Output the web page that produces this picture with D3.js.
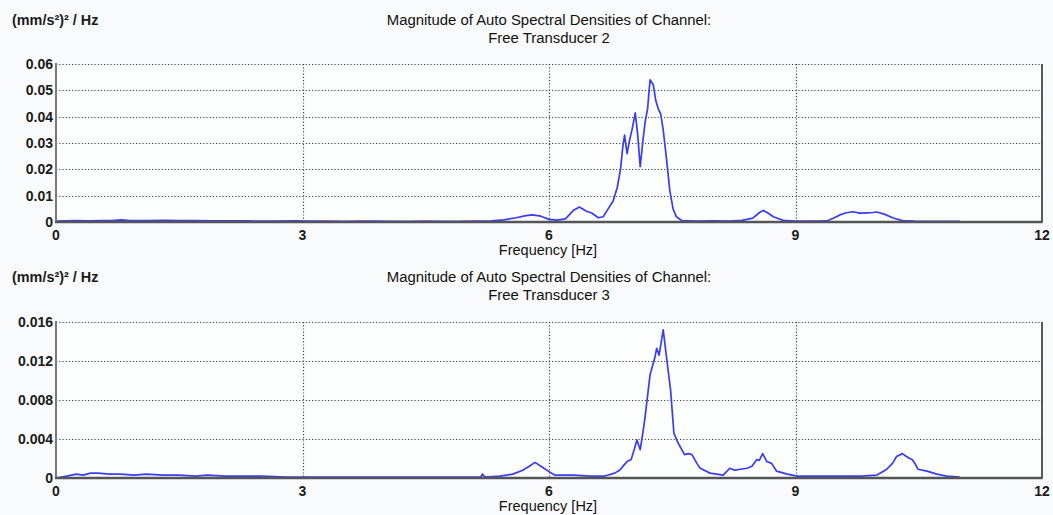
<!DOCTYPE html>
<html>
<head>
<meta charset="utf-8">
<script src="https://cdn.jsdelivr.net/npm/d3@7"></script>
<style>
  body { margin: 0; background: #f9fafb; }
  svg { display: block; font-family: "Liberation Sans", Arial, sans-serif; }
</style>
</head>
<body>
<div id="chart"></div>
<script>
var svgWidth = 1053;
var svgHeight = 515;

// Free Transducer 2 -- frequency (Hz) and ASD values
var freq2 = [0.00, 0.10, 0.25, 0.40, 0.55, 0.70, 0.80, 0.90, 1.10, 1.30, 1.50, 1.70, 1.90, 2.10, 2.30, 2.50, 2.70, 2.90,
  3.10, 3.30, 3.50, 3.70, 3.90, 4.10, 4.30, 4.50, 4.70, 4.90, 5.10, 5.30, 5.45, 5.60, 5.72, 5.80, 5.90, 6.00, 6.10,
  6.20, 6.30, 6.37, 6.45, 6.52, 6.60, 6.66, 6.72, 6.78, 6.83, 6.87, 6.90, 6.92, 6.95, 6.98, 7.01, 7.05, 7.08, 7.11,
  7.14, 7.17, 7.20, 7.23, 7.27, 7.30, 7.33, 7.36, 7.39, 7.43, 7.47, 7.51, 7.55, 7.62, 7.80, 8.00, 8.20, 8.35, 8.48,
  8.57, 8.61, 8.66, 8.73, 8.85, 9.00, 9.20, 9.38, 9.46, 9.54, 9.62, 9.70, 9.78, 9.87, 9.94, 9.99, 10.08, 10.19,
  10.30, 10.45, 10.70, 11.00];
var asd2 = [0.0003, 0.0004, 0.0005, 0.0004, 0.0005, 0.0006, 0.0008, 0.0005, 0.0005, 0.0006, 0.0005, 0.0005, 0.0004,
  0.0004, 0.0004, 0.0003, 0.0003, 0.0004, 0.0003, 0.0003, 0.0002, 0.0003, 0.0003, 0.0002, 0.0002, 0.0003, 0.0002,
  0.0002, 0.0003, 0.0004, 0.0008, 0.0016, 0.0024, 0.0027, 0.0022, 0.0010, 0.0007, 0.0012, 0.0045, 0.0057, 0.0042,
  0.0034, 0.0016, 0.0020, 0.0050, 0.0080, 0.0130, 0.0200, 0.0290, 0.0330, 0.0260, 0.0310, 0.0350, 0.0414, 0.0330,
  0.0210, 0.0300, 0.0380, 0.0430, 0.0540, 0.0520, 0.0460, 0.0430, 0.0410, 0.0350, 0.0240, 0.0120, 0.0050, 0.0020,
  0.0005, 0.0003, 0.0004, 0.0003, 0.0006, 0.0015, 0.0038, 0.0044, 0.0035, 0.0020, 0.0006, 0.0003, 0.0003, 0.0004,
  0.0014, 0.0027, 0.0035, 0.0039, 0.0034, 0.0035, 0.0036, 0.0038, 0.0030, 0.0015, 0.0005, 0.0003, 0.0002, 0.0002];

// Free Transducer 3
var freq3 = [0.00, 0.13, 0.25, 0.33, 0.42, 0.51, 0.65, 0.78, 0.95, 1.10, 1.30, 1.50, 1.70, 1.84, 2.05, 2.24, 2.50,
  2.80, 3.00, 3.40, 3.80, 4.20, 4.60, 5.00, 5.17, 5.19, 5.22, 5.40, 5.56, 5.68, 5.76, 5.83, 5.92, 6.01, 6.07, 6.30,
  6.50, 6.68, 6.80, 6.86, 6.92, 6.95, 7.00, 7.04, 7.07, 7.11, 7.14, 7.17, 7.23, 7.29, 7.31, 7.34, 7.39, 7.43, 7.48,
  7.52, 7.57, 7.61, 7.65, 7.70, 7.74, 7.80, 7.84, 7.96, 8.12, 8.20, 8.26, 8.33, 8.41, 8.47, 8.53, 8.56, 8.60, 8.65,
  8.71, 8.77, 8.90, 9.02, 9.20, 9.40, 9.60, 9.80, 9.99, 10.05, 10.11, 10.18, 10.23, 10.30, 10.35, 10.39, 10.42,
  10.46, 10.49, 10.60, 10.72, 10.84, 11.00];
var asd3 = [0.0000, 0.0002, 0.0004, 0.0003, 0.0005, 0.0005, 0.0004, 0.0004, 0.0003, 0.0004, 0.0003, 0.0003, 0.0002,
  0.0003, 0.0002, 0.0002, 0.0002, 0.0001, 0.0001, 0.0001, 0.0001, 0.0001, 0.0001, 0.0001, 0.0001, 0.0004, 0.0001,
  0.0002, 0.0004, 0.0008, 0.0012, 0.0016, 0.0011, 0.0006, 0.0003, 0.0003, 0.0002, 0.0002, 0.0005, 0.0008, 0.0014,
  0.0017, 0.0019, 0.0030, 0.0039, 0.0029, 0.0045, 0.0063, 0.0106, 0.0124, 0.0133, 0.0126, 0.0152, 0.0124, 0.0090,
  0.0046, 0.0036, 0.0030, 0.0024, 0.0025, 0.0024, 0.0015, 0.0010, 0.0005, 0.0003, 0.0010, 0.0008, 0.0009, 0.0010,
  0.0012, 0.0019, 0.0018, 0.0025, 0.0017, 0.0015, 0.0007, 0.0004, 0.0002, 0.0002, 0.0002, 0.0002, 0.0002, 0.0003,
  0.0006, 0.0009, 0.0015, 0.0022, 0.0025, 0.0022, 0.0020, 0.0019, 0.0014, 0.0009, 0.0007, 0.0004, 0.0002, 0.0001];

var xTicks = [0, 3, 6, 9, 12];
var yTicks2 = [0, 0.01, 0.02, 0.03, 0.04, 0.05, 0.06];
var yTicks3 = [0, 0.004, 0.008, 0.012, 0.016];
var yLabels2 = ["0", "0.01", "0.02", "0.03", "0.04", "0.05", "0.06"];
var yLabels3 = ["0", "0.004", "0.008", "0.012", "0.016"];

var unitText = "(mm/s\u00b2)\u00b2 / Hz";
var titleLine1 = "Magnitude of Auto Spectral Densities of Channel:";
var xTitle = "Frequency [Hz]";

var svg = d3.select("#chart")
  .append("svg")
  .attr("width", svgWidth)
  .attr("height", svgHeight);

var plotLeft = 56;
var plotRight = 1042;

var panels = [
  { name: "Free Transducer 2", freq: freq2, asd: asd2, ticks: yTicks2, labels: yLabels2, top: 64, bottom: 222, off: 0 },
  { name: "Free Transducer 3", freq: freq3, asd: asd3, ticks: yTicks3, labels: yLabels3, top: 322, bottom: 478, off: 257 }
];

panels.forEach(function(p) {
  var x = d3.scaleLinear().domain([0, 12]).range([plotLeft, plotRight]);
  var y = d3.scaleLinear().domain([0, d3.max(p.ticks)]).range([p.bottom, p.top]);

  // plot area
  svg.append("rect")
    .attr("x", plotLeft).attr("y", p.top)
    .attr("width", plotRight - plotLeft).attr("height", p.bottom - p.top)
    .attr("fill", "#fdfefe");

  // grid
  var grid = svg.append("g");
  grid.selectAll("line.h")
    .data(p.ticks.slice(1))
    .enter().append("line")
    .attr("x1", plotLeft).attr("x2", plotRight)
    .attr("y1", d => Math.round(y(d)) + 0.5).attr("y2", d => Math.round(y(d)) + 0.5)
    .attr("stroke", "#444").attr("stroke-width", 1.2)
    .attr("stroke-dasharray", "1.2,2");
  grid.selectAll("line.v")
    .data(xTicks.slice(1, -1))
    .enter().append("line")
    .attr("x1", d => Math.round(x(d)) + 0.5).attr("x2", d => Math.round(x(d)) + 0.5)
    .attr("y1", p.top).attr("y2", p.bottom)
    .attr("stroke", "#444").attr("stroke-width", 1.2)
    .attr("stroke-dasharray", "1.2,2");

  // series
  var pts = p.freq.map(function(f, i) { return [f, p.asd[i]]; });
  var line = d3.line().x(d => x(d[0])).y(d => y(d[1]));
  svg.append("path")
    .datum(pts)
    .attr("d", line)
    .attr("fill", "none")
    .attr("stroke", "#3a3cf4")
    .attr("stroke-width", 1.7)
    .attr("stroke-linejoin", "round");

  // frame
  svg.append("line")
    .attr("x1", plotRight).attr("x2", plotRight)
    .attr("y1", p.top).attr("y2", p.bottom)
    .attr("stroke", "#222").attr("stroke-width", 1.5);
  svg.append("line")
    .attr("x1", plotLeft).attr("x2", plotLeft)
    .attr("y1", p.top - 1).attr("y2", p.bottom)
    .attr("stroke", "#7a7a7a").attr("stroke-width", 2);
  svg.append("line")
    .attr("x1", plotLeft - 1).attr("x2", plotRight + 0.75)
    .attr("y1", p.bottom).attr("y2", p.bottom)
    .attr("stroke", "#555").attr("stroke-width", 2.5);

  // tick labels
  svg.append("g").selectAll("text")
    .data(p.ticks)
    .enter().append("text")
    .attr("x", 53)
    .attr("y", d => y(d) + 5)
    .attr("text-anchor", "end")
    .attr("font-size", "14px").attr("font-weight", "bold").attr("fill", "#1a1a1a")
    .text((d, i) => p.labels[i]);

  svg.append("g").selectAll("text")
    .data(xTicks)
    .enter().append("text")
    .attr("x", d => x(d))
    .attr("y", p.bottom + 18)
    .attr("text-anchor", "middle")
    .attr("font-size", "14px").attr("font-weight", "bold").attr("fill", "#1a1a1a")
    .text(d => d);

  // titles
  svg.append("text")
    .attr("x", 12).attr("y", 25 + p.off)
    .attr("font-size", "14.4px").attr("font-weight", "bold").attr("fill", "#1a1a1a")
    .text(unitText);
  svg.append("text")
    .attr("x", 549).attr("y", 25 + p.off)
    .attr("text-anchor", "middle")
    .attr("font-size", "14.9px").attr("fill", "#111")
    .text(titleLine1);
  svg.append("text")
    .attr("x", 549).attr("y", 43 + p.off)
    .attr("text-anchor", "middle")
    .attr("font-size", "14.9px").attr("fill", "#111")
    .text(p.name);
  svg.append("text")
    .attr("x", 548).attr("y", p.bottom + 33)
    .attr("text-anchor", "middle")
    .attr("font-size", "14.5px").attr("fill", "#111")
    .text(xTitle);
});
</script>
</body>
</html>
